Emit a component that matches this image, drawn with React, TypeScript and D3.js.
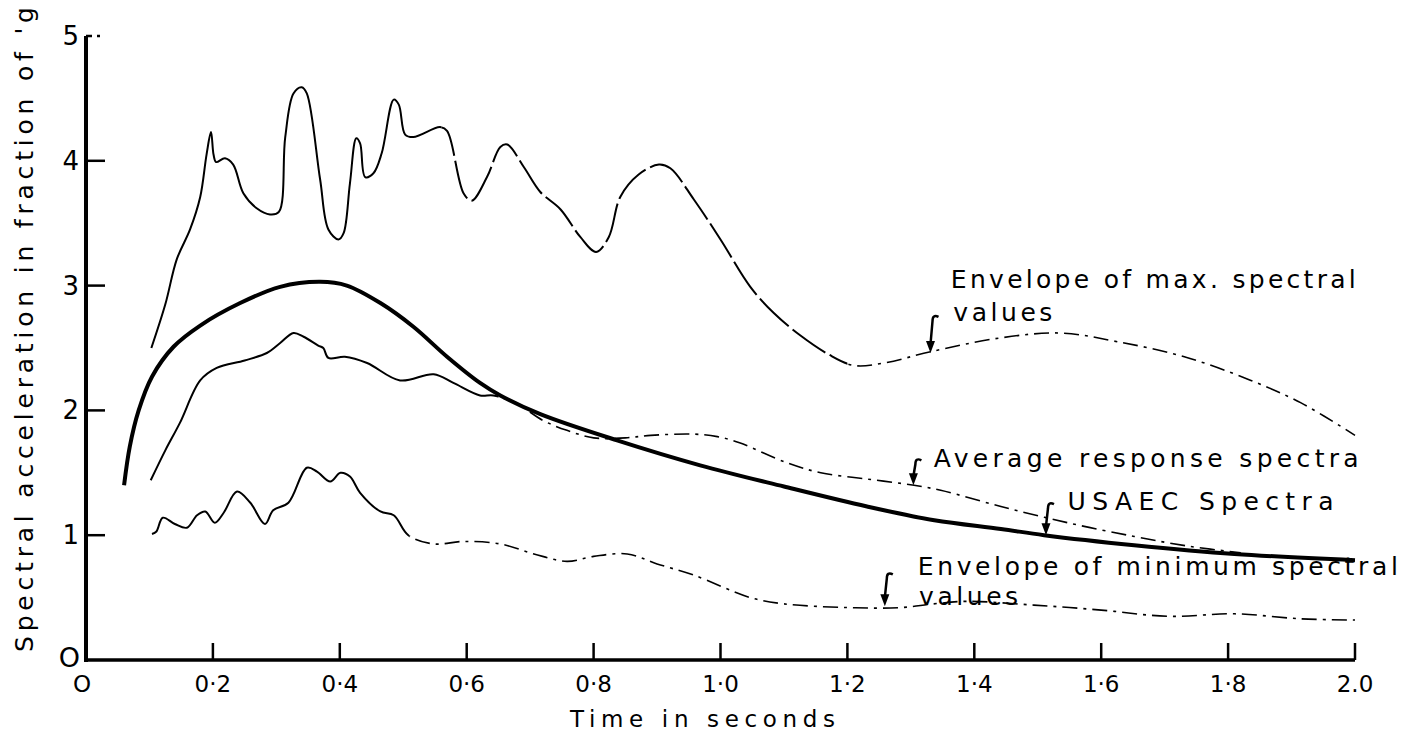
import React, { useEffect, useRef } from 'react';
import * as d3 from 'd3';

// axis ticks
const xTicks = [0, 0.2, 0.4, 0.6, 0.8, 1.0, 1.2, 1.4, 1.6, 1.8, 2.0];
const xTickLabels = ['O', '0·2', '0·4', '0·6', '0·8', '1·0', '1·2', '1·4', '1·6', '1·8', '2.0'];
const yTicks = [1, 2, 3, 4, 5];
const yTickLabels = ['1', '2', '3', '4', '5'];

// [period (s), spectral acceleration (g)]
const maxEnvelope: [number, number][] = [
  [0.103, 2.5], [0.125, 2.85], [0.143, 3.21], [0.164, 3.45], [0.18, 3.71], [0.19, 4.05],
  [0.197, 4.23], [0.201, 4.05], [0.205, 3.99], [0.219, 4.02], [0.232, 3.97], [0.248, 3.74],
  [0.269, 3.62], [0.29, 3.57], [0.304, 3.59], [0.314, 4.19], [0.327, 4.54], [0.34, 4.59],
  [0.348, 4.54], [0.369, 3.85], [0.382, 3.45], [0.398, 3.37], [0.406, 3.42], [0.416, 3.82],
  [0.426, 4.18], [0.432, 4.14], [0.44, 3.87], [0.453, 3.9], [0.466, 4.06], [0.485, 4.49],
  [0.493, 4.45], [0.503, 4.21], [0.516, 4.19], [0.558, 4.27], [0.569, 4.24], [0.595, 3.74],
  [0.608, 3.68], [0.632, 3.87], [0.653, 4.11], [0.664, 4.13], [0.69, 3.95], [0.716, 3.75],
  [0.748, 3.61], [0.779, 3.39], [0.804, 3.27], [0.824, 3.39], [0.842, 3.71], [0.871, 3.89],
  [0.903, 3.97], [0.921, 3.94], [0.958, 3.69], [1.0, 3.37], [1.047, 2.99], [1.084, 2.78],
  [1.126, 2.6], [1.17, 2.45], [1.21, 2.36], [1.258, 2.38], [1.331, 2.47], [1.44, 2.58],
  [1.536, 2.62], [1.626, 2.55], [1.731, 2.43], [1.836, 2.24], [1.915, 2.06], [2.0, 1.8],
];

const averageSpectra: [number, number][] = [
  [0.102, 1.44], [0.125, 1.68], [0.148, 1.9], [0.18, 2.24], [0.206, 2.34], [0.25, 2.4],
  [0.285, 2.46], [0.306, 2.54], [0.327, 2.62], [0.343, 2.59], [0.366, 2.52], [0.374, 2.5],
  [0.382, 2.42], [0.408, 2.43], [0.443, 2.38], [0.495, 2.24], [0.548, 2.29], [0.579, 2.22],
  [0.621, 2.12], [0.642, 2.12], [0.68, 2.05], [0.72, 1.92], [0.758, 1.84], [0.8, 1.78],
  [0.85, 1.78], [0.89, 1.8], [0.958, 1.81], [0.995, 1.79], [1.03, 1.74], [1.105, 1.58],
  [1.158, 1.5], [1.231, 1.45], [1.305, 1.4], [1.347, 1.36], [1.442, 1.23], [1.547, 1.1],
  [1.652, 0.99], [1.74, 0.91], [1.82, 0.86],
];

const usaecSpectra: [number, number][] = [
  [0.06, 1.4], [0.069, 1.71], [0.083, 2.0], [0.104, 2.27], [0.138, 2.51], [0.18, 2.68],
  [0.243, 2.86], [0.306, 2.99], [0.369, 3.03], [0.411, 3.0], [0.464, 2.86], [0.516, 2.67],
  [0.569, 2.43], [0.621, 2.22], [0.653, 2.12], [0.716, 1.97], [0.837, 1.76], [0.968, 1.56],
  [1.1, 1.39], [1.231, 1.23], [1.337, 1.12], [1.442, 1.05], [1.51, 1.0], [1.652, 0.92],
  [1.81, 0.85], [2.0, 0.8],
];

const minEnvelope: [number, number][] = [
  [0.104, 1.01], [0.111, 1.03], [0.121, 1.14], [0.14, 1.09], [0.159, 1.06], [0.175, 1.16],
  [0.188, 1.19], [0.203, 1.1], [0.217, 1.18], [0.238, 1.35], [0.259, 1.26], [0.282, 1.09],
  [0.295, 1.2], [0.319, 1.26], [0.348, 1.54], [0.364, 1.51], [0.385, 1.43], [0.401, 1.5],
  [0.416, 1.47], [0.432, 1.34], [0.464, 1.19], [0.485, 1.16], [0.508, 1.0], [0.548, 0.93],
  [0.595, 0.95], [0.653, 0.93], [0.706, 0.85], [0.758, 0.79], [0.8, 0.83], [0.853, 0.85],
  [0.9, 0.77], [0.958, 0.68], [1.047, 0.5], [1.1, 0.45], [1.2, 0.42], [1.284, 0.42],
  [1.336, 0.45], [1.389, 0.47], [1.494, 0.44], [1.6, 0.4], [1.705, 0.35], [1.81, 0.37],
  [1.915, 0.33], [2.0, 0.32],
];

const DASH_DOT = '15 6 3 6';

const series = [
  { key: 'max', data: maxEnvelope, width: 2, zones: [[0.56, null], [1.2, '40 5'], [2.1, DASH_DOT]] },
  { key: 'avg', data: averageSpectra, width: 2, zones: [[0.65, null], [2.1, DASH_DOT]] },
  { key: 'min', data: minEnvelope, width: 2, zones: [[0.51, null], [2.1, DASH_DOT]] },
  { key: 'usaec', data: usaecSpectra, width: 4, zones: [[2.1, null]] },
];

// callouts: text lines (t, v of baseline start), arrow tip on the curve
const annotations = [
  { lines: [['Envelope of max. spectral', 1.363, 2.98, 405], ['values', 1.367, 2.72, 99]], tip: [1.331, 2.46], len: 38 },
  { lines: [['Average response spectra', 1.336, 1.55, 425]], tip: [1.304, 1.4], len: 27 },
  { lines: [['USAEC  Spectra', 1.547, 1.2, 266]], tip: [1.513, 1.0], len: 33 },
  { lines: [['Envelope of minimum spectral', 1.311, 0.68, 480], ['values', 1.313, 0.44, 99]], tip: [1.259, 0.43], len: 34 },
];

const W = 1403;
const H = 732;
const FONT = '"DejaVu Sans", sans-serif';

const App = () => {
  const svgRef = useRef<SVGSVGElement>(null);

  useEffect(() => {
    const svg = d3.select(svgRef.current);
    svg.selectAll('*').remove();

    const x = d3.scaleLinear().domain([0, 2]).range([86, 1355]);
    const y = d3.scaleLinear().domain([0, 5]).range([660, 36]);

    const defs = svg.append('defs');
    const line = d3.line<[number, number]>()
      .x(d => x(d[0]))
      .y(d => y(d[1]))
      .curve(d3.curveCatmullRom.alpha(0.5));

    // curves, each split into solid / dashed zones by clip rects
    series.forEach(s => {
      let from = 0;
      s.zones.forEach(([to, dash], i) => {
        const id = `clip-${s.key}-${i}`;
        defs.append('clipPath').attr('id', id)
          .append('rect')
          .attr('x', x(from as number)).attr('y', 0)
          .attr('width', x(to as number) - x(from as number)).attr('height', H);
        svg.append('path')
          .attr('d', line(s.data))
          .attr('fill', 'none')
          .attr('stroke', '#000')
          .attr('stroke-width', dash === DASH_DOT ? s.width * 0.8 : s.width)
          .attr('stroke-linejoin', 'round')
          .attr('stroke-dasharray', dash as string | null)
          .attr('clip-path', `url(#${id})`);
        from = to as number;
      });
    });

    // axes
    svg.append('line')
      .attr('x1', x(0)).attr('x2', x(0)).attr('y1', y(0) + 2).attr('y2', y(5))
      .attr('stroke', '#000').attr('stroke-width', 4);
    svg.append('line')
      .attr('x1', x(0) - 2).attr('x2', x(2)).attr('y1', y(0)).attr('y2', y(0))
      .attr('stroke', '#000').attr('stroke-width', 3.5);

    svg.selectAll('.xtick').data(xTicks.slice(1)).enter().append('line')
      .attr('x1', d => x(d)).attr('x2', d => x(d))
      .attr('y1', y(0)).attr('y2', y(0) - 17)
      .attr('stroke', '#000').attr('stroke-width', 2.5);

    svg.selectAll('.xlabel').data(xTicks).enter().append('text')
      .attr('x', (d, i) => x(d) - (i === 0 ? 4 : 0))
      .attr('y', 692)
      .attr('text-anchor', 'middle')
      .attr('font-family', FONT)
      .attr('font-size', 23)
      .text((d, i) => xTickLabels[i]);

    svg.selectAll('.ytick').data(yTicks).enter().append('line')
      .attr('x1', x(0)).attr('x2', x(0) + 19)
      .attr('y1', d => y(d)).attr('y2', d => y(d))
      .attr('stroke', '#000').attr('stroke-width', 2.5)
      .attr('stroke-dasharray', d => (d === 5 ? '6 5 3 5' : null));

    svg.selectAll('.ylabel').data(yTicks).enter().append('text')
      .attr('x', 79)
      .attr('y', d => y(d) + 9)
      .attr('text-anchor', 'end')
      .attr('font-family', FONT)
      .attr('font-size', 26)
      .text((d, i) => yTickLabels[i]);

    svg.append('text')
      .attr('x', 80).attr('y', 667)
      .attr('text-anchor', 'end')
      .attr('font-family', FONT)
      .attr('font-size', 27)
      .text('O');

    // axis titles
    svg.append('text')
      .attr('transform', 'translate(33, 652) rotate(-90)')
      .attr('font-family', FONT)
      .attr('font-size', 25)
      .attr('textLength', 645)
      .attr('lengthAdjust', 'spacing')
      .text("Spectral acceleration in fraction of 'g");

    svg.append('text')
      .attr('x', 570).attr('y', 727)
      .attr('font-family', FONT)
      .attr('font-size', 23)
      .attr('textLength', 265)
      .attr('lengthAdjust', 'spacing')
      .text('Time  in seconds');

    // callouts
    annotations.forEach(a => {
      a.lines.forEach(([label, t, v, len]) => {
        svg.append('text')
          .attr('x', x(t as number)).attr('y', y(v as number))
          .attr('font-family', FONT)
          .attr('font-size', 25)
          .attr('textLength', len as number)
          .attr('lengthAdjust', 'spacing')
          .text(label as string);
      });
      const tx = x(a.tip[0]);
      const ty = y(a.tip[1]);
      const top = ty - a.len;
      svg.append('path')
        .attr('d', `M${tx + 8},${top + 2} Q${tx + 2},${top - 1} ${tx + 2},${top + 6} L${tx},${ty - 9}`)
        .attr('fill', 'none').attr('stroke', '#000').attr('stroke-width', 2.5);
      svg.append('path')
        .attr('d', `M${tx - 4.5},${ty - 12} L${tx + 4.5},${ty - 12} L${tx},${ty} Z`)
        .attr('fill', '#000');
    });
  }, []);

  return (
    <svg
      ref={svgRef}
      width={W}
      height={H}
      style={{ position: 'absolute', left: 0, top: 0, background: '#fff' }}
    />
  );
};

export default App;
